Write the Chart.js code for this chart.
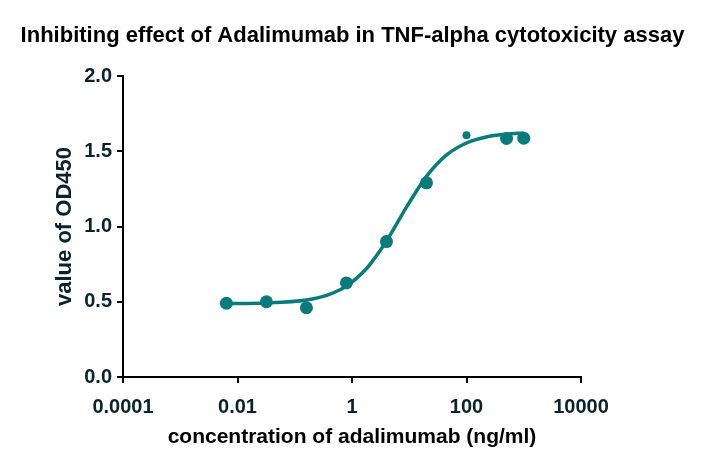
<!DOCTYPE html>
<html>
<head>
<meta charset="utf-8">
<script src="https://cdn.jsdelivr.net/npm/chart.js@4.4.0/dist/chart.umd.min.js"></script>
<style>
html,body{margin:0;padding:0;background:#fff;}
#wrap{width:705px;height:469px;position:relative;}
</style>
</head>
<body>
<div id="wrap"><canvas id="c" width="705" height="469"></canvas></div>
<script>
// Measured data (concentration in ng/ml, OD450)
const concentrations = [0.0064, 0.032, 0.16, 0.8, 4, 20, 100, 500, 1000];
const od450 = [0.49, 0.50, 0.46, 0.625, 0.90, 1.29, 1.607, 1.585, 1.587];
// Fitted curve
const curveX = [0.0064, 0.032, 0.16, 0.36, 0.8, 1.8, 2.33, 4, 9, 20, 45, 100, 220, 500, 1000];
const curveY = [0.488, 0.492, 0.512, 0.543, 0.604, 0.721, 0.775, 0.903, 1.130, 1.333, 1.476, 1.555, 1.595, 1.614, 1.622];
const xTicks = [0.0001, 0.01, 1, 100, 10000];
const yTicks = [0.0, 0.5, 1.0, 1.5, 2.0];

const teal = '#0a7b7b';
const textColor = '#0b2226';
const FONT = "'Liberation Sans', Arial, sans-serif";

const points = concentrations.map((x, i) => ({x, y: od450[i]}));
const curve = curveX.map((x, i) => ({x, y: curveY[i]}));

new Chart(document.getElementById('c'), {
  type: 'scatter',
  data: {
    datasets: [
      {
        type: 'line',
        data: curve,
        borderColor: teal,
        borderWidth: 3.5,
        pointRadius: 0,
        cubicInterpolationMode: 'monotone',
        fill: false,
        order: 2
      },
      {
        data: points,
        backgroundColor: teal,
        borderColor: teal,
        pointRadius: [6.5, 6.5, 6.5, 6.5, 6.5, 6.5, 4, 6.5, 6.5],
        pointBorderWidth: 0,
        order: 1
      }
    ]
  },
  options: {
    responsive: false,
    animation: false,
    devicePixelRatio: 1,
    layout: { padding: { top: 0, right: 0, bottom: 19, left: 0 } },
    plugins: {
      legend: { display: false },
      tooltip: { enabled: false },
      title: {
        display: true,
        text: 'Inhibiting effect of Adalimumab in TNF-alpha cytotoxicity assay',
        color: '#000',
        font: { family: FONT, size: 22, weight: 'bold' },
        padding: { top: 23, bottom: 26.6 },
        fullSize: true
      }
    },
    scales: {
      x: {
        type: 'logarithmic',
        min: 0.0001,
        max: 10000,
        afterBuildTicks: (s) => { s.ticks = xTicks.map(v => ({value: v})); },
        afterFit: (s) => { s.height = 73; },
        ticks: {
          color: textColor,
          font: { family: FONT, size: 20, weight: 'bold' },
          padding: 12,
          maxRotation: 0,
          autoSkip: false,
          callback: (v) => String(v)
        },
        grid: { display: true, drawOnChartArea: false, drawTicks: true, tickLength: 6, color: '#000', lineWidth: 2 },
        border: { display: true, color: '#000', width: 2 },
        title: {
          display: true,
          text: 'concentration of adalimumab (ng/ml)',
          color: '#000',
          font: { family: FONT, size: 21, weight: 'bold' },
          padding: { top: 0, bottom: 0 }
        }
      },
      y: {
        type: 'linear',
        position: 'left',
        min: 0,
        max: 2,
        afterBuildTicks: (s) => { s.ticks = yTicks.map(v => ({value: v})); },
        afterFit: (s) => { s.width = 123; },
        ticks: {
          color: textColor,
          font: { family: FONT, size: 20, weight: 'bold' },
          padding: 5,
          callback: (v) => Number(v).toFixed(1)
        },
        grid: { display: true, drawOnChartArea: false, drawTicks: true, tickLength: 6, color: '#000', lineWidth: 2 },
        border: { display: true, color: '#000', width: 2 },
        title: {
          display: true,
          text: 'value of OD450',
          color: textColor,
          font: { family: FONT, size: 22, weight: 'bold' },
          padding: { top: 51.8, bottom: 0 }
        }
      },
      yRight: {
        type: 'linear',
        position: 'right',
        min: 0,
        max: 2,
        afterFit: (s) => { s.width = 124; },
        ticks: { display: false },
        grid: { display: false },
        border: { display: false },
        title: { display: false }
      }
    }
  }
});
</script>
</body>
</html>
